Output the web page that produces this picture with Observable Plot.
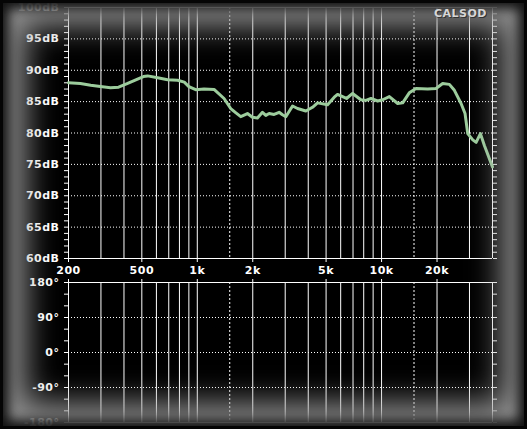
<!DOCTYPE html>
<html><head><meta charset="utf-8">
<script src="https://cdn.jsdelivr.net/npm/d3@7"></script>
<script src="https://cdn.jsdelivr.net/npm/@observablehq/plot@0.6"></script>
<style>
html,body{margin:0;padding:0;background:#000;}
#wrap{position:relative;width:527px;height:429px;overflow:hidden;background:#000;}
#wrap svg{position:absolute;left:0;}
#wrap svg text{text-shadow:1px 1px 0 #000;letter-spacing:0.5px;}
#bevel{position:absolute;left:0;top:0;width:527px;height:429px;pointer-events:none;
  box-shadow: inset 0 0 0 3px #050505, inset 0 0 12px 9px rgba(8,8,8,0.92), inset 0 0 32px 25px rgba(165,165,165,0.9);}
#brand{position:absolute;right:40px;top:8px;color:#d6d6d6;font:bold 11px "DejaVu Sans";line-height:1;letter-spacing:0.5px;text-shadow:1px 1px 0 #333;}
</style></head>
<body><div id="wrap"></div>
<script>
// Measured response (Hz, dB SPL)
const freqHz = [200, 232, 264, 298, 338, 374, 419, 474, 510, 538, 609, 690, 782, 850, 900, 980, 1088, 1233, 1397, 1518, 1621, 1721, 1871, 1992, 2120, 2258, 2354, 2454, 2612, 2780, 2898, 3023, 3288, 3500, 3882, 4219, 4496, 5093, 5537, 5770, 6455, 6963, 7720, 8228, 8760, 9524, 10140, 11020, 12230, 13020, 14140, 15380, 17800, 19750, 21470, 23340, 24840, 27010, 28380, 29360, 31260, 32600, 34400, 36150, 40000];
const levelDb = [88.0, 87.9, 87.6, 87.4, 87.2, 87.3, 87.9, 88.6, 89.0, 89.1, 88.8, 88.5, 88.4, 88.1, 87.4, 86.9, 87.0, 86.95, 85.5, 83.9, 83.2, 82.6, 83.1, 82.5, 82.4, 83.3, 82.8, 83.1, 82.95, 83.3, 82.9, 82.6, 84.3, 83.9, 83.5, 84.1, 84.8, 84.5, 85.7, 86.15, 85.5, 86.3, 85.3, 85.2, 85.5, 85.1, 85.3, 85.8, 84.7, 84.8, 86.4, 87.1, 87.0, 87.1, 87.9, 87.75, 86.8, 84.7, 83.1, 79.9, 78.9, 78.5, 79.9, 78.0, 74.6];

const freqDomain = [200, 40000];
const xTickLabels = [200, 500, 1000, 2000, 5000, 10000, 20000];
const xGridSolid = [300, 400, 500, 600, 700, 800, 900, 1000, 2000, 3000, 4000, 5000, 6000, 7000, 8000, 9000, 10000, 20000, 30000];
const xGridDotted = [1500, 15000];
const dbDomain = [60, 100];
const dbLabels = [60, 65, 70, 75, 80, 85, 90, 95, 100];
const dbGridDotted = [65, 70, 75, 80, 85, 90, 95];
const dbMinor = d3.range(60, 101, 1);
const phaseDomain = [-180, 180];
const phaseLabels = [-180, -90, 0, 90, 180];
const phaseGridDotted = [-90, 0, 90];
const phaseMinor = d3.range(-180, 181, 30);

const response = freqHz.map((f, i) => ({f, db: levelDb[i]}));
const fmtHz = d => d >= 1000 ? (d / 1000) + "k" : String(d);

const common = {
  width: 527,
  marginLeft: 68, marginRight: 35,
  style: {background: "transparent", color: "#ffffff", fontFamily: "DejaVu Sans", fontSize: "11px", fontWeight: "bold", overflow: "visible"},
  x: {type: "log", domain: freqDomain, label: null}
};

const magPlot = Plot.plot({
  ...common,
  height: 282, marginTop: 7, marginBottom: 24,
  y: {domain: dbDomain, label: null},
  marks: [
    Plot.ruleX(xGridSolid, {stroke: "#fff", strokeWidth: 1}),
    Plot.ruleX(xGridDotted, {stroke: "#fff", strokeDasharray: "2,2"}),
    Plot.ruleY(dbGridDotted, {stroke: "#fff", strokeDasharray: "1,2"}),
    Plot.ruleY(dbDomain, {stroke: "#fff"}),
    Plot.ruleX(freqDomain, {stroke: "#fff"}),
    Plot.axisY({ticks: dbMinor, tickSize: 4, fill: "none", label: null}),
    Plot.axisY({anchor: "right", ticks: dbMinor, tickSize: 4, fill: "none", label: null}),
    Plot.axisY({ticks: dbLabels, tickSize: 0, tickPadding: 9, tickFormat: d => d + "dB", label: null}),
    Plot.axisX({ticks: xTickLabels, tickSize: 4, fill: "none", label: null}),
    Plot.text(xTickLabels, {x: d => d, text: fmtHz, frameAnchor: "bottom", lineAnchor: "top", dy: 8, fill: "#fff"}),
    Plot.line(response, {x: "f", y: "db", stroke: "#9ccc9c", strokeWidth: 3})
  ]
});
magPlot.style.top = "0px";

const phasePlot = Plot.plot({
  ...common,
  height: 148, marginTop: 1, marginBottom: 7,
  y: {domain: phaseDomain, label: null},
  marks: [
    Plot.ruleX(xGridSolid, {stroke: "#fff", strokeWidth: 1}),
    Plot.ruleX(xGridDotted, {stroke: "#fff", strokeDasharray: "2,2"}),
    Plot.ruleY(phaseGridDotted, {stroke: "#fff", strokeDasharray: "1,2"}),
    Plot.ruleY(phaseDomain, {stroke: "#fff"}),
    Plot.ruleX(freqDomain, {stroke: "#fff"}),
    Plot.axisY({ticks: phaseMinor, tickSize: 4, fill: "none", label: null}),
    Plot.axisY({anchor: "right", ticks: phaseMinor, tickSize: 4, fill: "none", label: null}),
    Plot.axisY({ticks: phaseLabels, tickSize: 0, tickPadding: 9, tickFormat: d => d + "°", label: null}),
    Plot.axisX({anchor: "top", ticks: xTickLabels, tickSize: 4, fill: "none", label: null})
  ]
});
phasePlot.style.top = "281px";

const wrap = document.getElementById("wrap");
wrap.appendChild(magPlot);
wrap.appendChild(phasePlot);
const bevel = document.createElement("div");
bevel.id = "bevel";
wrap.appendChild(bevel);
const brand = document.createElement("div");
brand.id = "brand";
brand.textContent = "CALSOD";
wrap.appendChild(brand);
</script>
</body></html>
